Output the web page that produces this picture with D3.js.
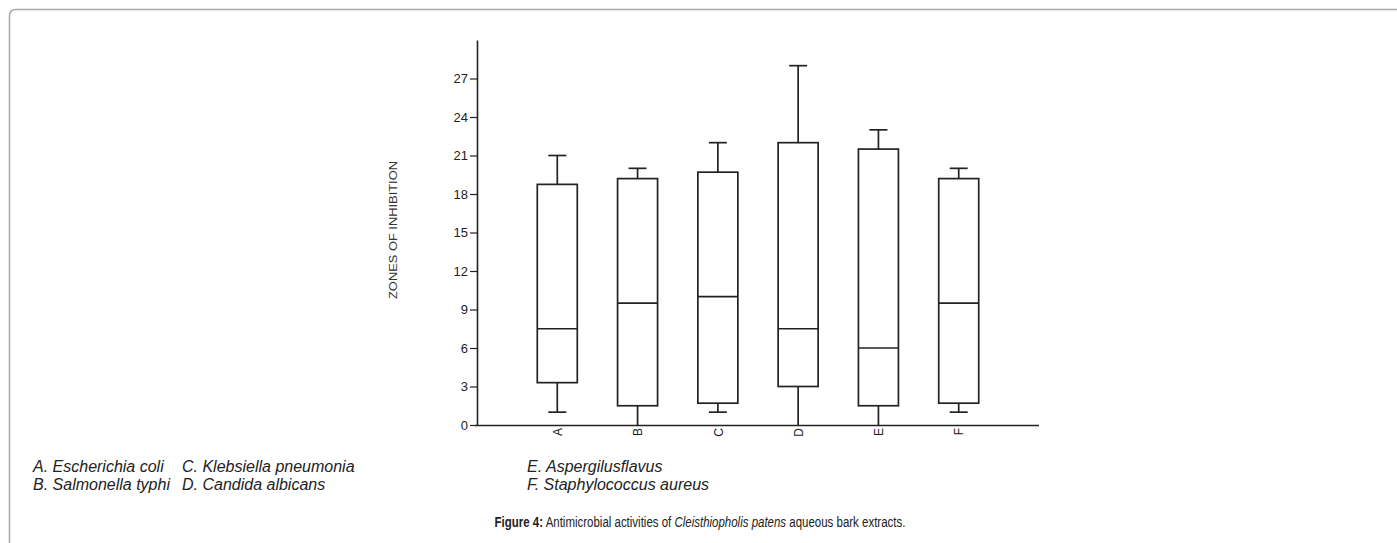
<!DOCTYPE html>
<html lang="en">
<head>
<meta charset="UTF-8">
<title>Figure 4</title>
<script src="https://d3js.org/d3.v7.min.js"></script>
<style>
  body { margin: 0; background: #fff; }
  svg { display: block; font-family: "Liberation Sans", Arial, sans-serif; }
</style>
</head>
<body>
<div id="chart"></div>
<script>

// box plot summaries
const categories = ["A", "B", "C", "D", "E", "F"];
const mins    = [1,    0,    1,    0,   0,    1];
const q1s     = [3.3,  1.5,  1.7,  3,   1.5,  1.7];
const medians = [7.5,  9.5,  10,   7.5, 6,    9.5];
const q3s     = [18.75, 19.2, 19.7, 22,  21.5, 19.2];
const maxs    = [21,   20,   22,   28,  23,   20];
const yTicks  = [0, 3, 6, 9, 12, 15, 18, 21, 24, 27];

const legendRows = [
    ["A. Escherichia coli", "C. Klebsiella pneumonia", "E. Aspergilusflavus"],
    ["B. Salmonella typhi", "D. Candida albicans", "F. Staphylococcus aureus"]
];

const width = 1397, height = 543;

const svg = d3.select("#chart").append("svg")
    .attr("width", width)
    .attr("height", height);

// page frame (top + left edge, rounded corner)
svg.append("path")
    .attr("d", "M9.5,543 L9.5,16 Q9.5,9.5 16,9.5 L1397,9.5")
    .attr("fill", "none")
    .attr("stroke", "#a8a8a8")
    .attr("stroke-width", 1.5);

const x = d3.scalePoint()
    .domain(categories)
    .range([477, 1039])
    .padding(1);

const y = d3.scaleLinear()
    .domain([0, 30])
    .range([425, 40]);

// y axis
const yAxis = svg.append("g")
    .attr("transform", "translate(477,0)")
    .call(d3.axisLeft(y).tickValues(yTicks).tickSize(7).tickPadding(2).tickSizeOuter(0));
yAxis.select(".domain").attr("stroke", "#222").attr("stroke-width", 1.6);
yAxis.selectAll(".tick line").attr("stroke", "#222").attr("stroke-width", 1.2);
yAxis.selectAll(".tick text")
    .attr("font-size", 13)
    .attr("font-family", "Liberation Sans, Arial, sans-serif")
    .attr("fill", "#222");

// x axis
const xAxis = svg.append("g")
    .attr("transform", "translate(0,425)")
    .call(d3.axisBottom(x).tickSize(0).tickSizeOuter(0));
xAxis.select(".domain")
    .attr("d", "M475,0.5H1039")
    .attr("stroke", "#222").attr("stroke-width", 1.6);
xAxis.selectAll(".tick text")
    .attr("font-size", 12)
    .attr("font-family", "Liberation Sans, Arial, sans-serif")
    .attr("fill", "#222")
    .attr("text-anchor", "end")
    .attr("dy", "0.35em")
    .attr("transform", "translate(0,3) rotate(-90)")
    .attr("y", 0)
    .attr("x", 0);

svg.append("text")
    .attr("transform", "translate(397,230) rotate(-90) scale(1.17,1)")
    .attr("text-anchor", "middle")
    .attr("font-size", 11)
    .attr("fill", "#333")
    .text("ZONES OF INHIBITION");

// boxes
const boxW = 40, capW = 18;
const data = categories.map((c, i) => ({
    c: c, min: mins[i], q1: q1s[i], med: medians[i], q3: q3s[i], max: maxs[i]
}));

const g = svg.append("g")
    .attr("stroke", "#222")
    .attr("stroke-width", 1.7)
    .attr("fill", "none");

const box = g.selectAll("g.box").data(data).join("g").attr("class", "box");

box.append("line")
    .attr("x1", d => x(d.c)).attr("x2", d => x(d.c))
    .attr("y1", d => y(d.q3)).attr("y2", d => y(d.max));
box.append("line")
    .attr("x1", d => x(d.c)).attr("x2", d => x(d.c))
    .attr("y1", d => y(d.q1)).attr("y2", d => y(d.min));
box.append("line")
    .attr("x1", d => x(d.c) - capW / 2).attr("x2", d => x(d.c) + capW / 2)
    .attr("y1", d => y(d.max)).attr("y2", d => y(d.max));
box.filter(d => d.min > 0).append("line")
    .attr("x1", d => x(d.c) - capW / 2).attr("x2", d => x(d.c) + capW / 2)
    .attr("y1", d => y(d.min)).attr("y2", d => y(d.min));
box.append("rect")
    .attr("x", d => x(d.c) - boxW / 2)
    .attr("width", boxW)
    .attr("y", d => y(d.q3))
    .attr("height", d => y(d.q1) - y(d.q3))
    .attr("fill", "#fff");
box.append("line")
    .attr("x1", d => x(d.c) - boxW / 2).attr("x2", d => x(d.c) + boxW / 2)
    .attr("y1", d => y(d.med)).attr("y2", d => y(d.med));

// legend
const legX = [33, 182, 527];
const legY = [472, 490];
legendRows.forEach((row, r) => {
    row.forEach((t, c) => {
        svg.append("text")
            .attr("x", legX[c])
            .attr("y", legY[r])
            .attr("font-size", 16)
            .attr("font-style", "italic")
            .attr("fill", "#222")
            .text(t);
    });
});

// caption
const cap = svg.append("text")
    .attr("transform", "translate(700,527) scale(0.82,1)")
    .attr("text-anchor", "middle")
    .attr("font-size", 14)
    .attr("fill", "#222");
cap.append("tspan").attr("font-weight", "bold").text("Figure 4:");
cap.append("tspan").text(" Antimicrobial activities of ");
cap.append("tspan").attr("font-style", "italic").text("Cleisthiopholis patens");
cap.append("tspan").text(" aqueous bark extracts.");

</script>
</body>
</html>
